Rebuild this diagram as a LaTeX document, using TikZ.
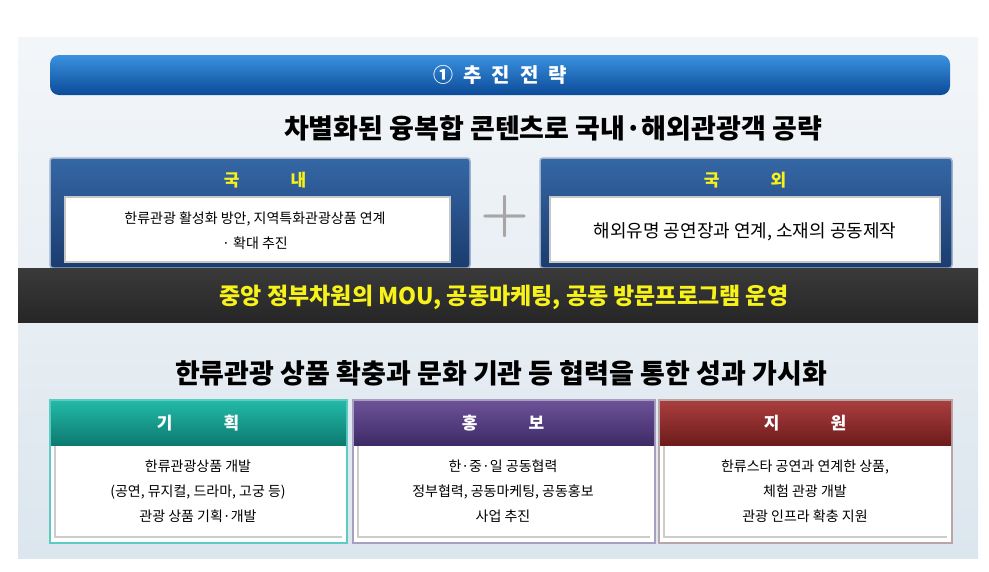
\documentclass[tikz,border=0pt]{standalone}
\usepackage{fontspec}
\newfontfamily\kr{Noto Sans CJK KR}
\usetikzlibrary{shadings}
\definecolor{bgA}{HTML}{F3F6F9}
\definecolor{bgB}{HTML}{DCE6EE}
\definecolor{barT}{HTML}{3A92E0}
\definecolor{barB}{HTML}{0B4A98}
\definecolor{bluT}{HTML}{3567A6}
\definecolor{bluB}{HTML}{1B3C6E}
\definecolor{bluE}{HTML}{9DB2CC}
\definecolor{bandT}{HTML}{3A3A3A}
\definecolor{bandB}{HTML}{262626}
\definecolor{tealT}{HTML}{22B9A7}
\definecolor{tealB}{HTML}{0C7A6F}
\definecolor{tealE}{HTML}{5CCBC3}
\definecolor{purT}{HTML}{6C5198}
\definecolor{purB}{HTML}{3E2B66}
\definecolor{purE}{HTML}{A79FC0}
\definecolor{redT}{HTML}{AA3E3E}
\definecolor{redB}{HTML}{6E1B1B}
\definecolor{redE}{HTML}{B9A5A5}
\definecolor{ylw}{HTML}{F6F21A}
\tikzset{
  heading/.style={font=\kr\bfseries\fontsize{27}{29}\selectfont, text=black},
  hdr/.style={font=\kr\bfseries\fontsize{17}{19}\selectfont},
  body/.style={font=\kr\fontsize{14}{25}\selectfont, text=black, align=center},
  whitebox/.style={fill=white, draw=black!22, line width=1.2pt},
  bluebox/.style={rounded corners=3pt, top color=bluT, bottom color=bluB, draw=bluE, line width=1.5pt},
}
\begin{document}
\begin{tikzpicture}[x=1pt,y=-1pt]
\useasboundingbox (0,0) rectangle (989,571);
\fill[white] (0,0) rectangle (989,571);
% background
\shade[top color=bgA, bottom color=bgB] (18,37) rectangle (978,558);
% title bar
\shade[rounded corners=9pt, top color=barT, bottom color=barB] (50,55) rectangle (950,95);
\node[font=\kr\bfseries\fontsize{20}{22}\selectfont, text=white] (title) at (500,75) {①\hspace{0.5em}추\hspace{0.5em}진\hspace{0.5em}전\hspace{0.5em}략};
\node[heading] (strat) at (553,128) {차별화된 융복합 콘텐츠로 국내·해외관광객 공략};
% domestic box
\draw[bluebox] (50,158) rectangle (470,268);
\node[hdr, text=ylw] (dom) at (265,180) {국\hspace{3em}내};
\draw[whitebox] (65,197) rectangle (450,262);
\node[body] (domtxt) at (255,231) {한류관광 활성화 방안, 지역특화관광상품 연계\\· 확대 추진};
% plus
\node[font=\fontsize{56}{56}\selectfont\bfseries, text=black!35] (plus) at (505,217) {+};
% overseas box
\draw[bluebox] (540,158) rectangle (952,268);
\node[hdr, text=ylw] (ovs) at (745,180) {국\hspace{3em}외};
\draw[whitebox] (550,197) rectangle (940,262);
\node[body, font=\kr\fontsize{18}{20}\selectfont] (ovstxt) at (745,232) {해외유명 공연장과 연계, 소재의 공동제작};
% dark band
\shade[top color=bandT, bottom color=bandB] (18,268) rectangle (978,322);
\node[font=\kr\bfseries\fontsize{23}{25}\selectfont, text=ylw] (band) at (504,297) {중앙 정부차원의 MOU, 공동마케팅, 공동 방문프로그램 운영};
\node[heading] (goal) at (501,373) {한류관광 상품 확충과 문화 기관 등 협력을 통한 성과 가시화};
% bottom boxes
\draw[draw=tealE, line width=2pt, fill=white] (50,400) rectangle (347,543);
\shade[top color=tealT, bottom color=tealB] (51,401) rectangle (346,445);
\draw[black!20, line width=2pt] (55,446) -- (55,537) -- (342,537);
\node[hdr, text=white] (plan) at (198,423) {기\hspace{3em}획};
\node[body] (plantxt) at (198,491) {한류관광상품 개발\\(공연, 뮤지컬, 드라마, 고궁 등)\\관광 상품 기획·개발};

\draw[draw=purE, line width=2pt, fill=white] (353,400) rectangle (655,543);
\shade[top color=purT, bottom color=purB] (354,401) rectangle (654,445);
\draw[black!20, line width=2pt] (358,446) -- (358,537) -- (650,537);
\node[hdr, text=white] (promo) at (503,423) {홍\hspace{3em}보};
\node[body] (promotxt) at (503,491) {한·중·일 공동협력\\정부협력, 공동마케팅, 공동홍보\\사업 추진};

\draw[draw=redE, line width=2pt, fill=white] (659,400) rectangle (952,543);
\shade[top color=redT, bottom color=redB] (660,401) rectangle (951,445);
\draw[black!20, line width=2pt] (664,446) -- (664,537) -- (947,537);
\node[hdr, text=white] (supp) at (805,423) {지\hspace{3em}원};
\node[body] (supptxt) at (805,491) {한류스타 공연과 연계한 상품,\\체험 관광 개발\\관광 인프라 확충 지원};
\end{tikzpicture}
\end{document}
